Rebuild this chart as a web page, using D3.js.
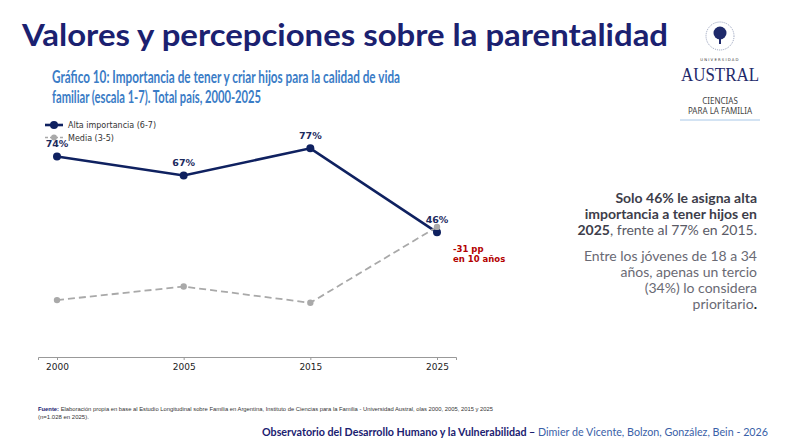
<!DOCTYPE html>
<html>
<head>
<meta charset="utf-8">
<script src="https://cdn.jsdelivr.net/npm/d3@7"></script>
<style>
  body { margin: 0; background: #fff; }
  svg { display: block; }
</style>
</head>
<body>
<svg width="790" height="444"></svg>
<script>
// datos
const years = ["2000", "2005", "2015", "2025"];
const alta = [74, 67, 77, 46];
const media = [21, 26, 20, 48];
const seriesNames = ["Alta importancia (6-7)", "Media (3-5)"];

const navy = "#0f2160";
const grey = "#a9a9a9";

const svg = d3.select("svg");

// titulo y subtitulo
svg.append("text")
   .attr("x", 22).attr("y", 46)
   .attr("font-family", "Lato, 'Noto Sans', sans-serif")
   .attr("font-weight", "bold")
   .attr("font-size", 31)
   .attr("fill", "#1b2170")
   .attr("textLength", 646)
   .attr("lengthAdjust", "spacingAndGlyphs")
   .text("Valores y percepciones sobre la parentalidad");

const subt = ["Gráfico 10: Importancia de tener y criar hijos para la calidad de vida",
              "familiar (escala 1-7). Total país, 2000-2025"];
const subW = [348, 209];
svg.selectAll("text.sub")
   .data(subt)
   .enter()
   .append("text")
   .attr("class", "sub")
   .attr("x", 52)
   .attr("y", (d, i) => 83 + i * 20)
   .attr("font-family", "Lato, 'Noto Sans', sans-serif")
   .attr("font-weight", "bold")
   .attr("font-size", 16.5)
   .attr("fill", "#3a7cc6")
   .attr("textLength", (d, i) => subW[i])
   .attr("lengthAdjust", "spacingAndGlyphs")
   .text(d => d);

// escalas
const x = d3.scalePoint()
   .domain(years)
   .range([38, 456])
   .padding(0.15);

const y = d3.scaleLinear()
   .domain([0, 100])
   .range([357, 86]);

// eje x
const xAxis = d3.axisBottom(x).tickSize(3).tickPadding(4);
const gx = svg.append("g")
   .attr("transform", "translate(0,357)")
   .call(xAxis);
gx.select(".domain").attr("stroke", "#999").attr("stroke-width", 1);
gx.selectAll(".tick line").attr("stroke", "#999");
gx.selectAll(".tick text")
   .attr("font-family", "'DejaVu Sans', sans-serif")
   .attr("font-size", 9)
   .attr("fill", "#222");

const line = d3.line()
   .x((d, i) => x(years[i]))
   .y(d => y(d));

// serie alta importancia
svg.append("path")
   .datum(alta)
   .attr("d", line)
   .attr("fill", "none")
   .attr("stroke", navy)
   .attr("stroke-width", 2.6);

svg.selectAll("circle.alta")
   .data(alta)
   .enter()
   .append("circle")
   .attr("class", "alta")
   .attr("cx", (d, i) => x(years[i]))
   .attr("cy", d => y(d))
   .attr("r", 4)
   .attr("fill", navy);

// serie media
svg.append("path")
   .datum(media)
   .attr("d", line)
   .attr("fill", "none")
   .attr("stroke", grey)
   .attr("stroke-width", 1.8)
   .attr("stroke-dasharray", "7,4");

svg.selectAll("circle.media")
   .data(media)
   .enter()
   .append("circle")
   .attr("class", "media")
   .attr("cx", (d, i) => x(years[i]))
   .attr("cy", d => y(d))
   .attr("r", 3.2)
   .attr("fill", grey);

// etiquetas
svg.selectAll("text.lbl")
   .data(alta)
   .enter()
   .append("text")
   .attr("class", "lbl")
   .attr("x", (d, i) => x(years[i]))
   .attr("y", d => y(d) - 9)
   .attr("text-anchor", "middle")
   .attr("font-family", "'DejaVu Sans', sans-serif")
   .attr("font-weight", "bold")
   .attr("font-size", 9.5)
   .attr("fill", "#1c2a5e")
   .text(d => d + "%");

// anotacion
svg.append("text")
   .attr("x", 453)
   .attr("y", y(alta[3]) + 20)
   .attr("font-family", "'DejaVu Sans', sans-serif")
   .attr("font-weight", "bold")
   .attr("font-size", 8.5)
   .attr("fill", "#b30000")
   .selectAll("tspan")
   .data(["-" + (alta[2] - alta[3]) + " pp", "en 10 años"])
   .enter()
   .append("tspan")
   .attr("x", 453)
   .attr("dy", (d, i) => i ? 10 : 0)
   .text(d => d);

// leyenda
const leg = svg.append("g").attr("transform", "translate(45,125)");
const legStyle = [
  {stroke: navy, w: 2.6, dash: null, r: 4},
  {stroke: grey, w: 1.5, dash: "3,2", r: 3}
];
seriesNames.forEach((name, i) => {
  const g = leg.append("g").attr("transform", "translate(0," + (i * 12.5) + ")");
  g.append("line")
   .attr("x1", 0).attr("x2", 18)
   .attr("stroke", legStyle[i].stroke)
   .attr("stroke-width", legStyle[i].w)
   .attr("stroke-dasharray", legStyle[i].dash);
  g.append("circle").attr("cx", 9).attr("r", legStyle[i].r).attr("fill", legStyle[i].stroke);
  g.append("text")
   .attr("x", 23).attr("y", 3)
   .attr("font-family", "'DejaVu Sans', sans-serif")
   .attr("font-size", 8)
   .attr("fill", "#333")
   .text(name);
});

// texto lateral
const side = svg.append("g")
   .attr("font-family", "Lato, 'Noto Sans', sans-serif")
   .attr("font-size", 14)
   .attr("text-anchor", "end");

const p1 = side.append("text").attr("x", 757).attr("y", 203).attr("fill", "#3d3d4a");
p1.append("tspan").attr("font-weight", "bold").text("Solo 46% le asigna alta");
const p1b = side.append("text").attr("x", 757).attr("y", 219).attr("fill", "#3d3d4a");
p1b.append("tspan").attr("font-weight", "bold").text("importancia a tener hijos en");
const p1c = side.append("text").attr("x", 757).attr("y", 235).attr("fill", "#3d3d4a");
p1c.append("tspan").attr("font-weight", "bold").text("2025");
p1c.append("tspan").attr("fill", "#5a5a66").text(", frente al 77% en 2015.");

const p2 = ["Entre los jóvenes de 18 a 34", "años, apenas un tercio", "(34%) lo considera", "prioritario"];
p2.forEach((t, i) => {
  const tx = side.append("text")
   .attr("x", 757)
   .attr("y", 261 + i * 16)
   .attr("fill", "#6a6a74")
   .text(t);
  if (i === 3) tx.append("tspan").attr("fill", "#222").attr("font-weight", "bold").text(".");
});

// logo
const logo = svg.append("g").attr("transform", "translate(720,0)");
logo.append("circle").attr("cx", 0).attr("cy", 36).attr("r", 14)
   .attr("fill", "none").attr("stroke", "#7a86a8").attr("stroke-width", 0.8).attr("stroke-dasharray", "1,1");
logo.append("circle").attr("cx", 0).attr("cy", 33).attr("r", 6.5).attr("fill", "#1f2a6b");
logo.append("rect").attr("x", -1).attr("y", 36).attr("width", 2).attr("height", 8).attr("fill", "#1f2a6b");
logo.append("text").attr("x", 0).attr("y", 61).attr("text-anchor", "middle")
   .attr("font-family", "'DejaVu Sans', sans-serif").attr("font-size", 3.8).attr("letter-spacing", 1.2)
   .attr("fill", "#333").text("UNIVERSIDAD");
logo.append("text").attr("x", 0).attr("y", 81).attr("text-anchor", "middle")
   .attr("font-family", "'Liberation Serif', serif").attr("font-size", 18)
   .attr("fill", "#1f2a6b").attr("textLength", 78).attr("lengthAdjust", "spacingAndGlyphs").text("AUSTRAL");
logo.append("text").attr("x", 0).attr("y", 104).attr("text-anchor", "middle")
   .attr("font-family", "'Noto Sans', sans-serif").attr("font-size", 8).attr("fill", "#444").text("CIENCIAS");
logo.append("text").attr("x", 0).attr("y", 114).attr("text-anchor", "middle")
   .attr("font-family", "'Noto Sans', sans-serif").attr("font-size", 8).attr("fill", "#444").text("PARA LA FAMILIA");
logo.append("line").attr("x1", -40).attr("x2", 40).attr("y1", 120).attr("y2", 120)
   .attr("stroke", "#a8c8e8").attr("stroke-width", 1);

// fuente
const foot = svg.append("g")
   .attr("font-family", "'Liberation Sans Narrow', 'Liberation Sans', sans-serif")
   .attr("font-size", 6)
   .attr("fill", "#333");
const f1 = foot.append("text").attr("x", 38).attr("y", 411)
   .attr("textLength", 455).attr("lengthAdjust", "spacingAndGlyphs");
f1.append("tspan").attr("font-weight", "bold").attr("fill", "#1b2170").text("Fuente: ");
f1.append("tspan").text("Elaboración propia en base al Estudio Longitudinal sobre Familia en Argentina, Instituto de Ciencias para la Familia - Universidad Austral, olas 2000, 2005, 2015 y 2025");
foot.append("text").attr("x", 38).attr("y", 419).text("(n=1.028 en 2025).");

const credit = svg.append("text")
   .attr("x", 262).attr("y", 436)
   .attr("font-family", "Lato, 'Noto Sans', sans-serif")
   .attr("font-size", 11.5)
   .attr("textLength", 506)
   .attr("lengthAdjust", "spacingAndGlyphs");
credit.append("tspan").attr("font-weight", "bold").attr("fill", "#1b2170")
   .text("Observatorio del Desarrollo Humano y la Vulnerabilidad – ");
credit.append("tspan").attr("fill", "#3a5fa8")
   .text("Dimier de Vicente, Bolzon, González, Bein - 2026");
</script>
</body>
</html>
